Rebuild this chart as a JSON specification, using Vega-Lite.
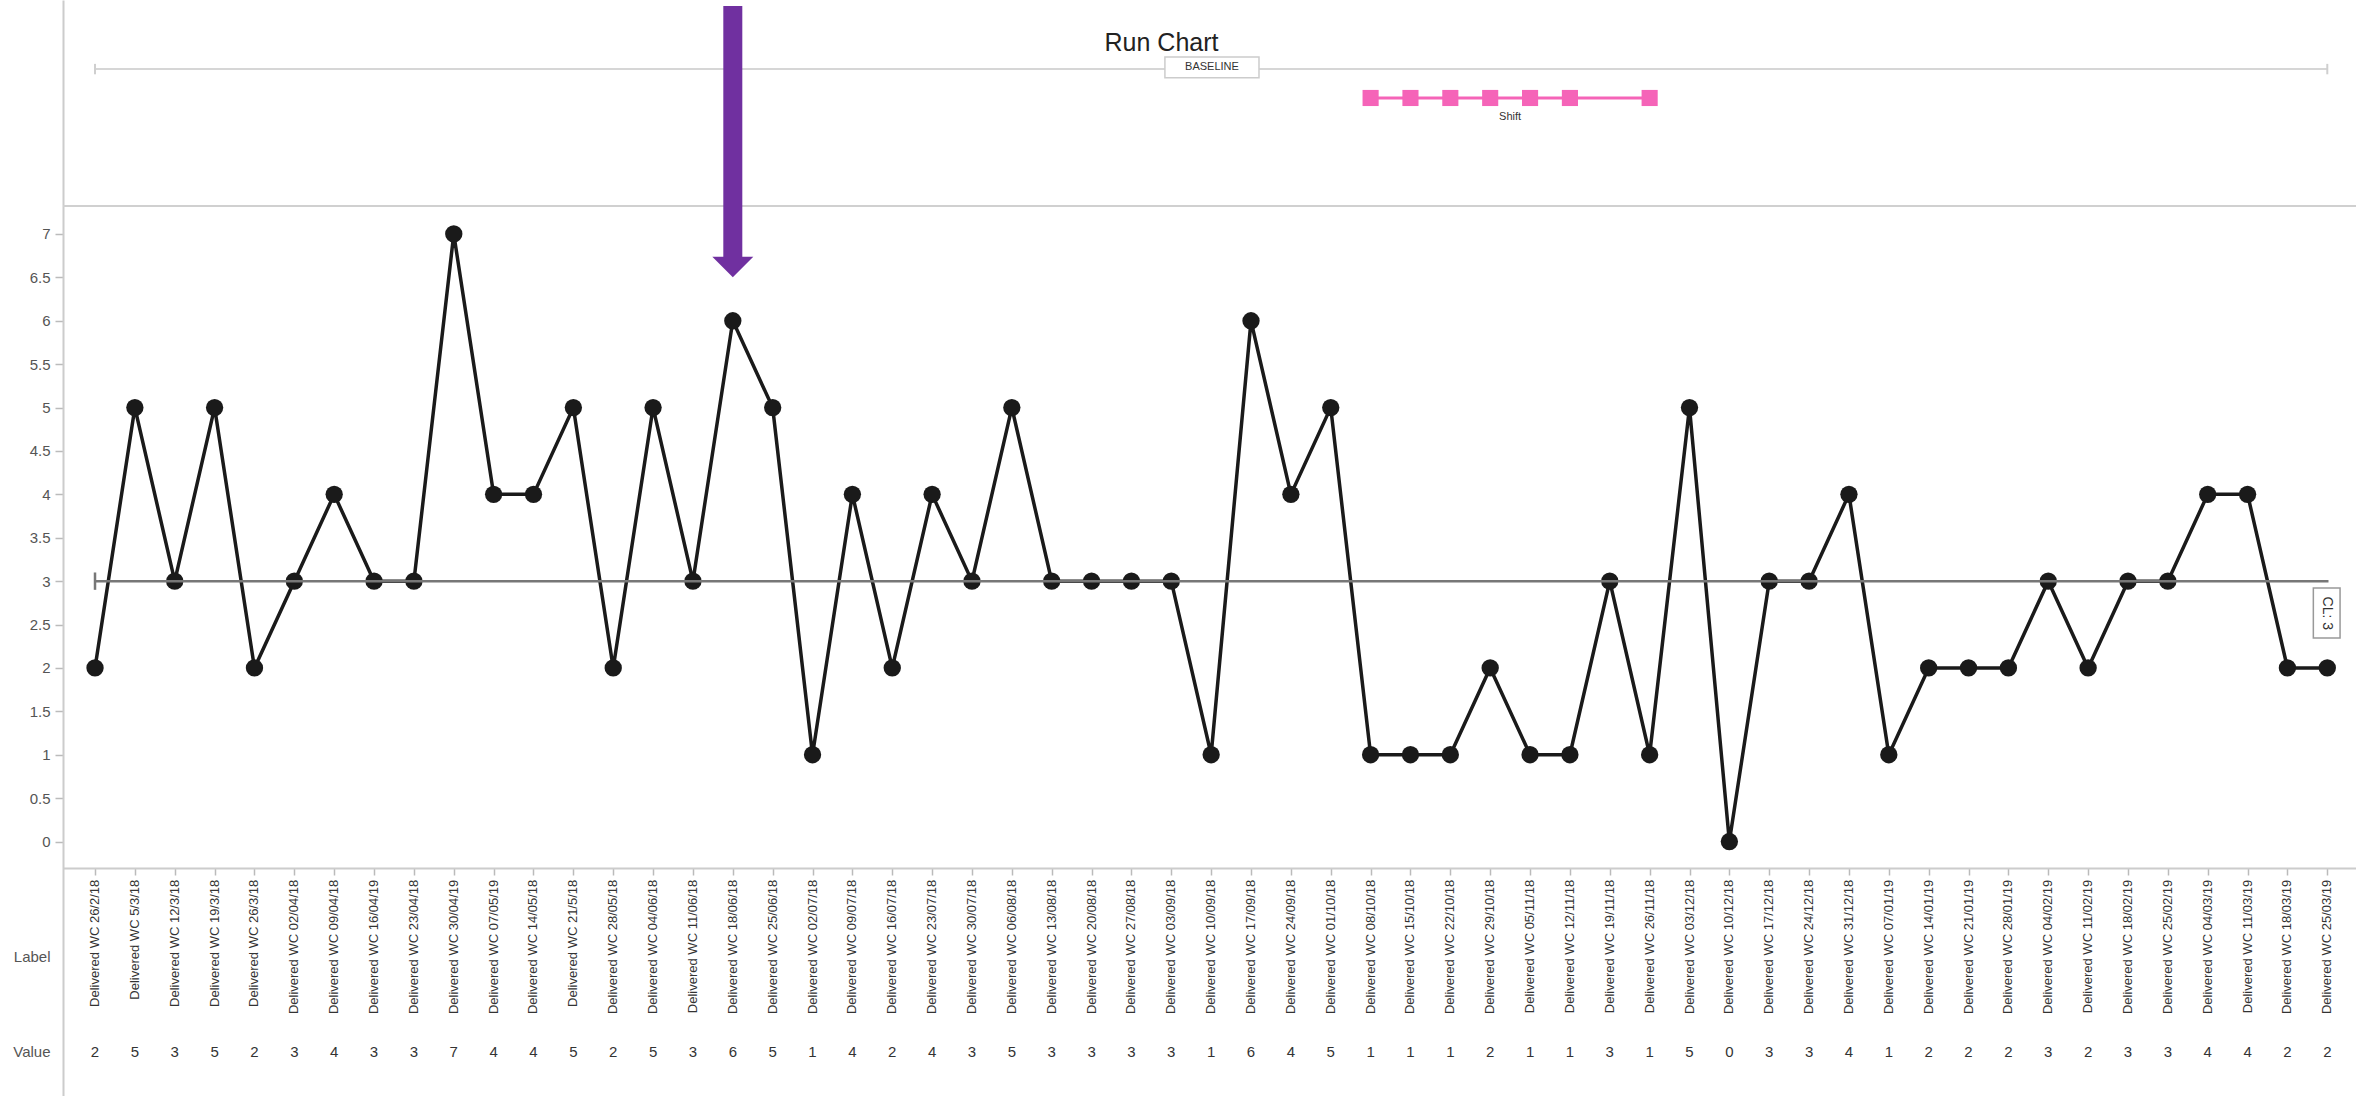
{
  "$schema": "https://vega.github.io/schema/vega-lite/v6.json",
  "width": 2293,
  "height": 1096,
  "autosize": {"type": "none"},
  "padding": {"left": 63, "top": 0, "right": 0, "bottom": 0},
  "background": "white",
  "config": {"view": {"stroke": null}},
  "title": {"text": "Run Chart", "anchor": "middle", "frame": "group", "offset": -80, "dx": -48, "baseline": "alphabetic", "font": "Liberation Sans", "fontSize": 25, "fontWeight": "normal", "color": "#222222"},
  "data": {"values": [
    {"i": 0, "label": "Delivered WC 26/2/18", "value": 2, "shift": false},
    {"i": 1, "label": "Delivered WC 5/3/18", "value": 5, "shift": false},
    {"i": 2, "label": "Delivered WC 12/3/18", "value": 3, "shift": false},
    {"i": 3, "label": "Delivered WC 19/3/18", "value": 5, "shift": false},
    {"i": 4, "label": "Delivered WC 26/3/18", "value": 2, "shift": false},
    {"i": 5, "label": "Delivered WC 02/04/18", "value": 3, "shift": false},
    {"i": 6, "label": "Delivered WC 09/04/18", "value": 4, "shift": false},
    {"i": 7, "label": "Delivered WC 16/04/19", "value": 3, "shift": false},
    {"i": 8, "label": "Delivered WC 23/04/18", "value": 3, "shift": false},
    {"i": 9, "label": "Delivered WC 30/04/19", "value": 7, "shift": false},
    {"i": 10, "label": "Delivered WC 07/05/19", "value": 4, "shift": false},
    {"i": 11, "label": "Delivered WC 14/05/18", "value": 4, "shift": false},
    {"i": 12, "label": "Delivered WC 21/5/18", "value": 5, "shift": false},
    {"i": 13, "label": "Delivered WC 28/05/18", "value": 2, "shift": false},
    {"i": 14, "label": "Delivered WC 04/06/18", "value": 5, "shift": false},
    {"i": 15, "label": "Delivered WC 11/06/18", "value": 3, "shift": false},
    {"i": 16, "label": "Delivered WC 18/06/18", "value": 6, "shift": false},
    {"i": 17, "label": "Delivered WC 25/06/18", "value": 5, "shift": false},
    {"i": 18, "label": "Delivered WC 02/07/18", "value": 1, "shift": false},
    {"i": 19, "label": "Delivered WC 09/07/18", "value": 4, "shift": false},
    {"i": 20, "label": "Delivered WC 16/07/18", "value": 2, "shift": false},
    {"i": 21, "label": "Delivered WC 23/07/18", "value": 4, "shift": false},
    {"i": 22, "label": "Delivered WC 30/07/18", "value": 3, "shift": false},
    {"i": 23, "label": "Delivered WC 06/08/18", "value": 5, "shift": false},
    {"i": 24, "label": "Delivered WC 13/08/18", "value": 3, "shift": false},
    {"i": 25, "label": "Delivered WC 20/08/18", "value": 3, "shift": false},
    {"i": 26, "label": "Delivered WC 27/08/18", "value": 3, "shift": false},
    {"i": 27, "label": "Delivered WC 03/09/18", "value": 3, "shift": false},
    {"i": 28, "label": "Delivered WC 10/09/18", "value": 1, "shift": false},
    {"i": 29, "label": "Delivered WC 17/09/18", "value": 6, "shift": false},
    {"i": 30, "label": "Delivered WC 24/09/18", "value": 4, "shift": false},
    {"i": 31, "label": "Delivered WC 01/10/18", "value": 5, "shift": false},
    {"i": 32, "label": "Delivered WC 08/10/18", "value": 1, "shift": true},
    {"i": 33, "label": "Delivered WC 15/10/18", "value": 1, "shift": true},
    {"i": 34, "label": "Delivered WC 22/10/18", "value": 1, "shift": true},
    {"i": 35, "label": "Delivered WC 29/10/18", "value": 2, "shift": true},
    {"i": 36, "label": "Delivered WC 05/11/18", "value": 1, "shift": true},
    {"i": 37, "label": "Delivered WC 12/11/18", "value": 1, "shift": true},
    {"i": 38, "label": "Delivered WC 19/11/18", "value": 3, "shift": false},
    {"i": 39, "label": "Delivered WC 26/11/18", "value": 1, "shift": true},
    {"i": 40, "label": "Delivered WC 03/12/18", "value": 5, "shift": false},
    {"i": 41, "label": "Delivered WC 10/12/18", "value": 0, "shift": false},
    {"i": 42, "label": "Delivered WC 17/12/18", "value": 3, "shift": false},
    {"i": 43, "label": "Delivered WC 24/12/18", "value": 3, "shift": false},
    {"i": 44, "label": "Delivered WC 31/12/18", "value": 4, "shift": false},
    {"i": 45, "label": "Delivered WC 07/01/19", "value": 1, "shift": false},
    {"i": 46, "label": "Delivered WC 14/01/19", "value": 2, "shift": false},
    {"i": 47, "label": "Delivered WC 21/01/19", "value": 2, "shift": false},
    {"i": 48, "label": "Delivered WC 28/01/19", "value": 2, "shift": false},
    {"i": 49, "label": "Delivered WC 04/02/19", "value": 3, "shift": false},
    {"i": 50, "label": "Delivered WC 11/02/19", "value": 2, "shift": false},
    {"i": 51, "label": "Delivered WC 18/02/19", "value": 3, "shift": false},
    {"i": 52, "label": "Delivered WC 25/02/19", "value": 3, "shift": false},
    {"i": 53, "label": "Delivered WC 04/03/19", "value": 4, "shift": false},
    {"i": 54, "label": "Delivered WC 11/03/19", "value": 4, "shift": false},
    {"i": 55, "label": "Delivered WC 18/03/19", "value": 2, "shift": false},
    {"i": 56, "label": "Delivered WC 25/03/19", "value": 2, "shift": false}
  ]},
  "layer": [
    {
      "mark": {"type": "line", "color": "#1a1a1a", "strokeWidth": 3.5},
      "encoding": {
        "x": {"field": "i", "type": "quantitative",
          "scale": {"domain": [-0.803, 56.72], "nice": false, "zero": false},
          "axis": {"orient": "bottom", "offset": -228, "values": [0,1,2,3,4,5,6,7,8,9,10,11,12,13,14,15,16,17,18,19,20,21,22,23,24,25,26,27,28,29,30,31,32,33,34,35,36,37,38,39,40,41,42,43,44,45,46,47,48,49,50,51,52,53,54,55,56],
            "labels": false, "ticks": true, "tickSize": 7, "tickColor": "#bbbbbb", "tickWidth": 1.5, "domainColor": "#cccccc", "domainWidth": 2, "grid": false, "title": null}},
        "y": {"field": "value", "type": "quantitative",
          "scale": {"domain": [-2.932, 9.696], "nice": false, "zero": false},
          "axis": {"values": [-2.425, -1.319, 0, 0.5, 1, 1.5, 2, 2.5, 3, 3.5, 4, 4.5, 5, 5.5, 6, 6.5, 7],
            "format": ".1~f",
            "labelExpr": "datum.value < -2 ? 'Value' : (datum.value < -1 ? 'Label' : datum.label)",
            "tickOpacity": {"condition": {"test": "datum.value < 0", "value": 0}, "value": 1},
            "tickSize": 8, "tickColor": "#bbbbbb", "tickWidth": 1.5, "labelPadding": 5,
            "labelFont": "Liberation Sans", "labelFontSize": 15, "labelColor": "#555555",
            "domainColor": "#cccccc", "domainWidth": 2, "grid": false, "title": null}}
      }
    },
    {
      "mark": {"type": "point", "filled": true, "shape": "circle", "size": 300, "color": "#1a1a1a", "opacity": 1},
      "encoding": {
        "x": {"field": "i", "type": "quantitative"},
        "y": {"field": "value", "type": "quantitative"}
      }
    },
    {
      "transform": [{"filter": "datum.i == 0"}],
      "mark": {"type": "rule", "color": "#d0d0d0", "strokeWidth": 2},
      "encoding": {"y": {"datum": 7.322, "type": "quantitative"}}
    },
    {
      "transform": [{"filter": "datum.i == 0"}],
      "mark": {"type": "rule", "color": "#d6d6d6", "strokeWidth": 2},
      "encoding": {
        "x": {"datum": 0, "type": "quantitative"},
        "x2": {"datum": 56},
        "y": {"datum": 8.901, "type": "quantitative"}
      }
    },
    {
      "transform": [{"filter": "datum.i == 0 || datum.i == 56"}],
      "mark": {"type": "rule", "color": "#cfcfcf", "strokeWidth": 2},
      "encoding": {
        "x": {"field": "i", "type": "quantitative"},
        "y": {"datum": 8.84, "type": "quantitative"},
        "y2": {"datum": 8.96}
      }
    },
    {
      "transform": [{"filter": "datum.i == 0"}],
      "mark": {"type": "rect", "fill": "white", "stroke": "#cccccc", "strokeWidth": 1.5},
      "encoding": {
        "x": {"datum": 26.84, "type": "quantitative"},
        "x2": {"datum": 29.2},
        "y": {"datum": 9.04, "type": "quantitative"},
        "y2": {"datum": 8.8}
      }
    },
    {
      "transform": [{"filter": "datum.i == 0"}],
      "mark": {"type": "text", "text": "BASELINE", "font": "Liberation Sans", "fontSize": 11, "color": "#333333", "align": "center", "baseline": "middle"},
      "encoding": {
        "x": {"datum": 28.02, "type": "quantitative"},
        "y": {"datum": 8.92, "type": "quantitative"}
      }
    },
    {
      "transform": [{"filter": "datum.shift"}],
      "mark": {"type": "line", "color": "#f564b8", "strokeWidth": 3},
      "encoding": {
        "x": {"field": "i", "type": "quantitative"},
        "y": {"datum": 8.567, "type": "quantitative"}
      }
    },
    {
      "transform": [{"filter": "datum.shift"}],
      "mark": {"type": "point", "shape": "square", "filled": true, "size": 260, "color": "#f564b8", "opacity": 1},
      "encoding": {
        "x": {"field": "i", "type": "quantitative"},
        "y": {"datum": 8.567, "type": "quantitative"}
      }
    },
    {
      "transform": [{"filter": "datum.i == 0"}],
      "mark": {"type": "text", "text": "Shift", "font": "Liberation Sans", "fontSize": 11, "color": "#333333", "align": "center", "baseline": "middle"},
      "encoding": {
        "x": {"datum": 35.5, "type": "quantitative"},
        "y": {"datum": 8.348, "type": "quantitative"}
      }
    },
    {
      "transform": [{"filter": "datum.i == 0"}],
      "mark": {"type": "rule", "color": "#777777", "strokeWidth": 2.5},
      "encoding": {
        "x": {"datum": 0, "type": "quantitative"},
        "x2": {"datum": 56.03},
        "y": {"datum": 3, "type": "quantitative"}
      }
    },
    {
      "transform": [{"filter": "datum.i == 0"}],
      "mark": {"type": "rule", "color": "#777777", "strokeWidth": 2.5},
      "encoding": {
        "x": {"datum": 0, "type": "quantitative"},
        "y": {"datum": 2.9, "type": "quantitative"},
        "y2": {"datum": 3.1}
      }
    },
    {
      "transform": [{"filter": "datum.i == 0"}],
      "mark": {"type": "rect", "fill": "white", "stroke": "#999999", "strokeWidth": 1.5},
      "encoding": {
        "x": {"datum": 55.65, "type": "quantitative"},
        "x2": {"datum": 56.32},
        "y": {"datum": 2.92, "type": "quantitative"},
        "y2": {"datum": 2.345}
      }
    },
    {
      "transform": [{"filter": "datum.i == 0"}],
      "mark": {"type": "text", "text": "CL: 3", "angle": 90, "font": "Liberation Sans", "fontSize": 14, "color": "#333333", "align": "center", "baseline": "middle"},
      "encoding": {
        "x": {"datum": 55.985, "type": "quantitative"},
        "y": {"datum": 2.63, "type": "quantitative"}
      }
    },
    {
      "transform": [{"filter": "datum.i == 0"}],
      "mark": {"type": "rule", "color": "#7030a0", "strokeWidth": 19},
      "encoding": {
        "x": {"datum": 16, "type": "quantitative"},
        "y": {"datum": 9.627, "type": "quantitative"},
        "y2": {"datum": 6.72}
      }
    },
    {
      "transform": [{"filter": "datum.i == 0"}],
      "mark": {"type": "point", "shape": "M-1,-0.5L1,-0.5L0,0.5Z", "filled": true, "size": 1681, "color": "#7030a0", "opacity": 1},
      "encoding": {
        "x": {"datum": 16, "type": "quantitative"},
        "y": {"datum": 6.62, "type": "quantitative"}
      }
    },
    {
      "mark": {"type": "text", "angle": 270, "align": "right", "baseline": "middle", "font": "Liberation Sans", "fontSize": 13, "color": "#333333"},
      "encoding": {
        "x": {"field": "i", "type": "quantitative"},
        "y": {"datum": -0.44, "type": "quantitative"},
        "text": {"field": "label", "type": "nominal"}
      }
    },
    {
      "mark": {"type": "text", "align": "center", "baseline": "middle", "font": "Liberation Sans", "fontSize": 15, "color": "#333333"},
      "encoding": {
        "x": {"field": "i", "type": "quantitative"},
        "y": {"datum": -2.425, "type": "quantitative"},
        "text": {"field": "value", "type": "quantitative"}
      }
    }
  ]
}
